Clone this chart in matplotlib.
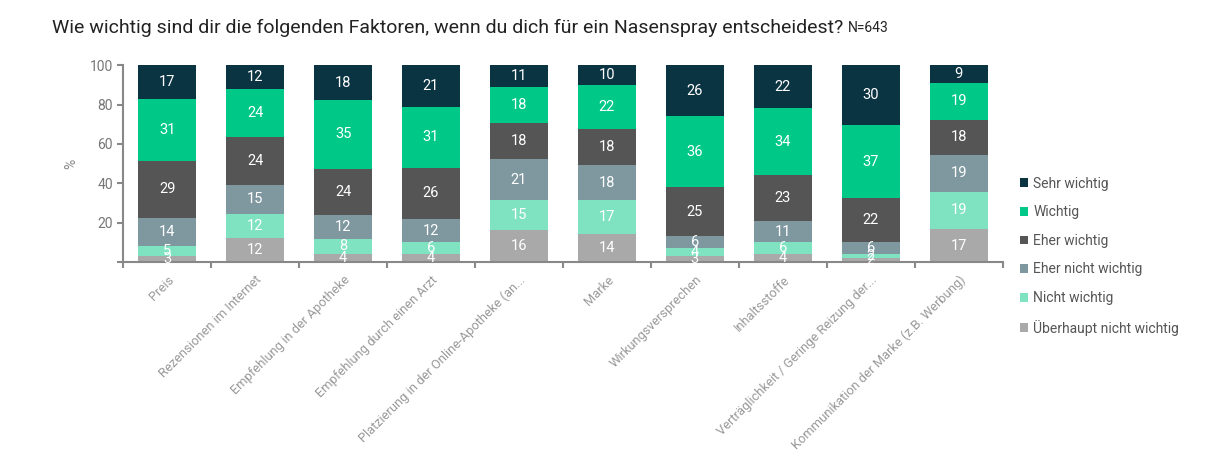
import matplotlib.pyplot as plt
import numpy as np

plt.rcParams['font.family'] = ['Roboto', 'DejaVu Sans']

categories = ["Preis", "Rezensionen im Internet", "Empfehlung in der Apotheke",
              "Empfehlung durch einen Arzt", "Platzierung in der Online-Apotheke (an...",
              "Marke", "Wirkungsversprechen", "Inhaltsstoffe",
              "Verträglichkeit / Geringe Reizung der...",
              "Kommunikation der Marke (z.B. Werbung)"]

# stacked from bottom to top
series_names = ["Überhaupt nicht wichtig", "Nicht wichtig", "Eher nicht wichtig",
                "Eher wichtig", "Wichtig", "Sehr wichtig"]
ueberhaupt_nicht = [3, 12, 4, 4, 16, 14, 3, 4, 2, 17]
nicht_wichtig = [5, 12, 8, 6, 15, 17, 4, 6, 2, 19]
eher_nicht = [14, 15, 12, 12, 21, 18, 6, 11, 6, 19]
eher_wichtig = [29, 24, 24, 26, 18, 18, 25, 23, 22, 18]
wichtig = [31, 24, 35, 31, 18, 22, 36, 34, 37, 19]
sehr_wichtig = [17, 12, 18, 21, 11, 10, 26, 22, 30, 9]

colors = ["#a9a9a9", "#7fe3c2", "#7f98a0", "#555555", "#00c987", "#0b3443"]

fig = plt.figure(figsize=(12.08, 4.59), dpi=100)
ax = fig.add_axes([0.102, 0.429, 0.728, 0.429])

all_series = np.array([ueberhaupt_nicht, nicht_wichtig, eher_nicht,
                       eher_wichtig, wichtig, sehr_wichtig], dtype=float)
# rounded labels do not always add to 100; bars are shown as shares of 100
shares = all_series / all_series.sum(axis=0) * 100

x = np.arange(len(categories))
bottom = np.zeros(len(categories))
handles = []
for name, vals, share, col in zip(series_names, all_series, shares, colors):
    b = ax.bar(x, share, bottom=bottom, width=0.66, color=col, label=name)
    handles.append(b)
    for xi, v, s, bt in zip(x, vals, share, bottom):
        ax.text(xi, bt + s / 2, f"{int(v)}", ha="center", va="center",
                color="white", fontsize=10.5)
    bottom += share

ax.set_xlim(-0.5, len(categories) - 0.5)
ax.set_ylim(0, 100)
ax.set_yticks([0, 20, 40, 60, 80, 100])
ax.set_yticklabels(["", "20", "40", "60", "80", "100"])
ax.set_xticks(x)
ax.set_xticklabels(categories, rotation=45, ha="right", rotation_mode="anchor",
                   fontsize=9.3, color="#999999")
ax.set_xticks(np.arange(len(categories) + 1) - 0.5, minor=True)
ax.tick_params(axis="x", which="major", length=0, pad=8)
ax.tick_params(axis="x", which="minor", length=4, color="#888888", width=1.5)
ax.tick_params(axis="y", length=4, color="#888888", width=1.5,
               labelcolor="#777777", labelsize=10)

for s in ["top", "right"]:
    ax.spines[s].set_visible(False)
for s in ["left", "bottom"]:
    ax.spines[s].set_color("#888888")
    ax.spines[s].set_linewidth(1.5)

ax.set_ylabel("%", color="#888888", fontsize=10, labelpad=8)

leg = ax.legend(handles[::-1], series_names[::-1], loc="center left",
                bbox_to_anchor=(1.005, 0.03), frameon=False, fontsize=10,
                handlelength=0.6, handleheight=0.6, handletextpad=0.4,
                labelspacing=1.05, labelcolor="#555555")

title = fig.text(0.043, 0.94, "Wie wichtig sind dir die folgenden Faktoren, wenn du dich für ein Nasenspray entscheidest?",
                 fontsize=14, color="#222222", va="center")
fig.canvas.draw()
tb = title.get_window_extent()
fig.text(tb.x1 / fig.bbox.width + 0.004, 0.94, "N=643", fontsize=10,
         color="#222222", va="center")

fig.savefig("out.png", dpi=100)
